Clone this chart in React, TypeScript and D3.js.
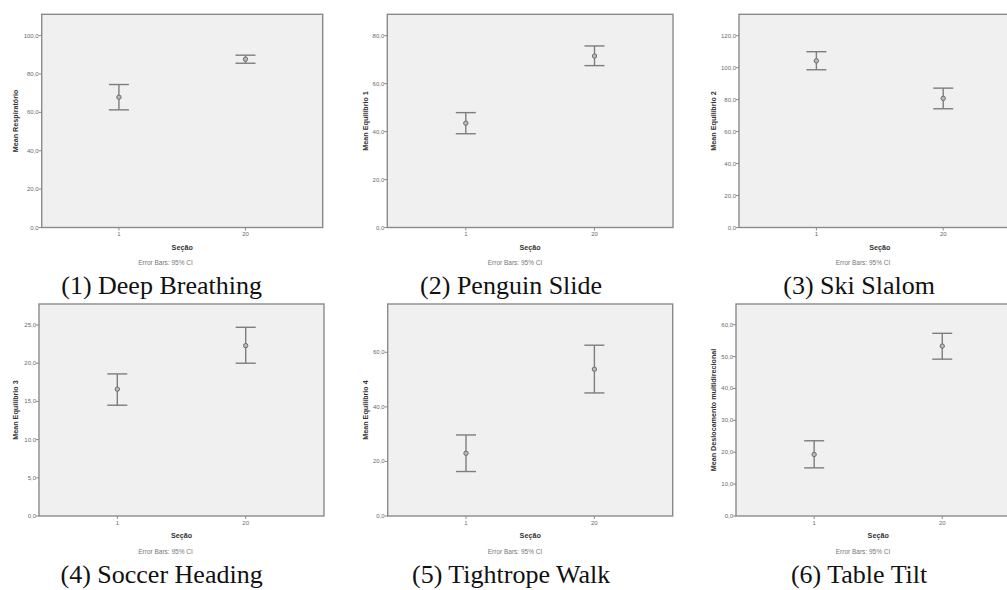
import React from "react";
import * as d3 from "d3";

// ---- data ----
const categories = ["1", "20"];
const panelTitles = [
  "(1) Deep Breathing",
  "(2) Penguin Slide",
  "(3) Ski Slalom",
  "(4) Soccer Heading",
  "(5) Tightrope Walk",
  "(6) Table Tilt",
];
const yAxisLabels = [
  "Mean Respiratório",
  "Mean Equilíbrio 1",
  "Mean Equilíbrio 2",
  "Mean Equilíbrio 3",
  "Mean Equilíbrio 4",
  "Mean Deslocamento multidirecional",
];
const meanValues = [
  [67.9, 87.7],
  [43.5, 71.5],
  [104.3, 80.8],
  [16.6, 22.3],
  [23.0, 53.8],
  [19.3, 53.3],
];
const ciLower = [
  [61.3, 85.6],
  [39.1, 67.5],
  [98.7, 74.3],
  [14.5, 20.0],
  [16.3, 45.1],
  [15.1, 49.2],
];
const ciUpper = [
  [74.5, 89.8],
  [47.9, 75.7],
  [110.0, 87.2],
  [18.6, 24.7],
  [29.7, 62.6],
  [23.6, 57.3],
];
const yDomainMax = [111.1, 88.9, 133.4, 27.75, 77.7, 66.5];
const yTickValues = [
  [0, 20, 40, 60, 80, 100],
  [0, 20, 40, 60, 80],
  [0, 20, 40, 60, 80, 100, 120],
  [0, 5, 10, 15, 20, 25],
  [0, 20, 40, 60],
  [0, 10, 20, 30, 40, 50, 60],
];
const xAxisTitle = "Seção";
const footnote = "Error Bars: 95% CI";

// ---- layout ----
const colOffsets = [0, 349.5, 697.5];
const rowTops = [14.3, 304];
const rowBottoms = [227.5, 516];
const plotLefts = [41.7, 387.3, 739, 39, 387.7, 736];
const plotRights = [322.7, 673, 1020.6, 324, 672.7, 1020.4];
const captionBaselines = [294, 583];

const SANS = "'Liberation Sans', Arial, sans-serif";
const SERIF = "'Liberation Serif', 'Times New Roman', serif";

const fmt = (v: number) => d3.format(".1f")(v).replace(".", ",");

const frameColor = "#8a8a8a";
const barColor = "#7d7d7d";
const tickTextColor = "#6a6a6a";

function Panel({ i }: { i: number }) {
  const row = Math.floor(i / 3);
  const col = i % 3;
  const top = rowTops[row];
  const bottom = rowBottoms[row];
  const left = plotLefts[i];
  const right = plotRights[i];
  const off = colOffsets[col];

  const y = d3.scaleLinear().domain([0, yDomainMax[i]]).range([bottom, top]);
  const x = d3.scalePoint<string>().domain(categories).range([left, right]).padding(0.61);
  const capHalf = 10;

  return (
    <g>
      <rect x={left} y={top} width={right - left} height={bottom - top} fill="#f0f0f0" stroke={frameColor} strokeWidth={1.4} />
      {yTickValues[i].map((t) => (
        <g key={t}>
          <line x1={left - 3} x2={left} y1={y(t)} y2={y(t)} stroke={frameColor} strokeWidth={1} />
          <text x={left - 3} y={y(t) + 2} fontSize={6} textAnchor="end" fill={tickTextColor} style={{ fontFamily: SANS }}>
            {fmt(t)}
          </text>
        </g>
      ))}
      {categories.map((c, j) => {
        const cx = x(c)!;
        return (
          <g key={c}>
            <line x1={cx} x2={cx} y1={bottom} y2={bottom + 3} stroke={frameColor} strokeWidth={1} />
            <text x={cx} y={bottom + 8.5} fontSize={6} textAnchor="middle" fill={tickTextColor} style={{ fontFamily: SANS }}>
              {c}
            </text>
            <line x1={cx} x2={cx} y1={y(ciUpper[i][j])} y2={y(ciLower[i][j])} stroke={barColor} strokeWidth={1.4} />
            <line x1={cx - capHalf} x2={cx + capHalf} y1={y(ciUpper[i][j])} y2={y(ciUpper[i][j])} stroke={barColor} strokeWidth={1.4} />
            <line x1={cx - capHalf} x2={cx + capHalf} y1={y(ciLower[i][j])} y2={y(ciLower[i][j])} stroke={barColor} strokeWidth={1.4} />
            <circle cx={cx} cy={y(meanValues[i][j])} r={2.2} fill="#b8b8b8" stroke="#6e6e6e" strokeWidth={1} />
          </g>
        );
      })}
      <text
        transform={`translate(${off + 15.7},${(top + bottom) / 2}) rotate(-90)`}
        textAnchor="middle"
        dominantBaseline="central"
        fontSize={7.2}
        fontWeight="bold"
        fill="#333"
        style={{ fontFamily: SANS }}
      >
        {yAxisLabels[i]}
      </text>
      <text x={(left + right) / 2} y={bottom + 22.3} fontSize={7.2} fontWeight="bold" textAnchor="middle" fill="#333" style={{ fontFamily: SANS }}>
        {xAxisTitle}
      </text>
      <text x={off + 165.5} y={bottom + 37.5} fontSize={6.5} textAnchor="middle" fill="#777" style={{ fontFamily: SANS }}>
        {footnote}
      </text>
      <text x={off + 161.6} y={captionBaselines[row]} fontSize={26} textAnchor="middle" fill="#111" style={{ fontFamily: SERIF }}>
        {panelTitles[i]}
      </text>
    </g>
  );
}

export default function App() {
  return (
    <svg
      width={1007}
      height={590}
      style={{ position: "absolute", left: 0, top: 0, background: "#fff" }}
    >
      <rect x={0} y={0} width={1007} height={590} fill="#fff" />
      {panelTitles.map((_, i) => (
        <Panel key={i} i={i} />
      ))}
    </svg>
  );
}
